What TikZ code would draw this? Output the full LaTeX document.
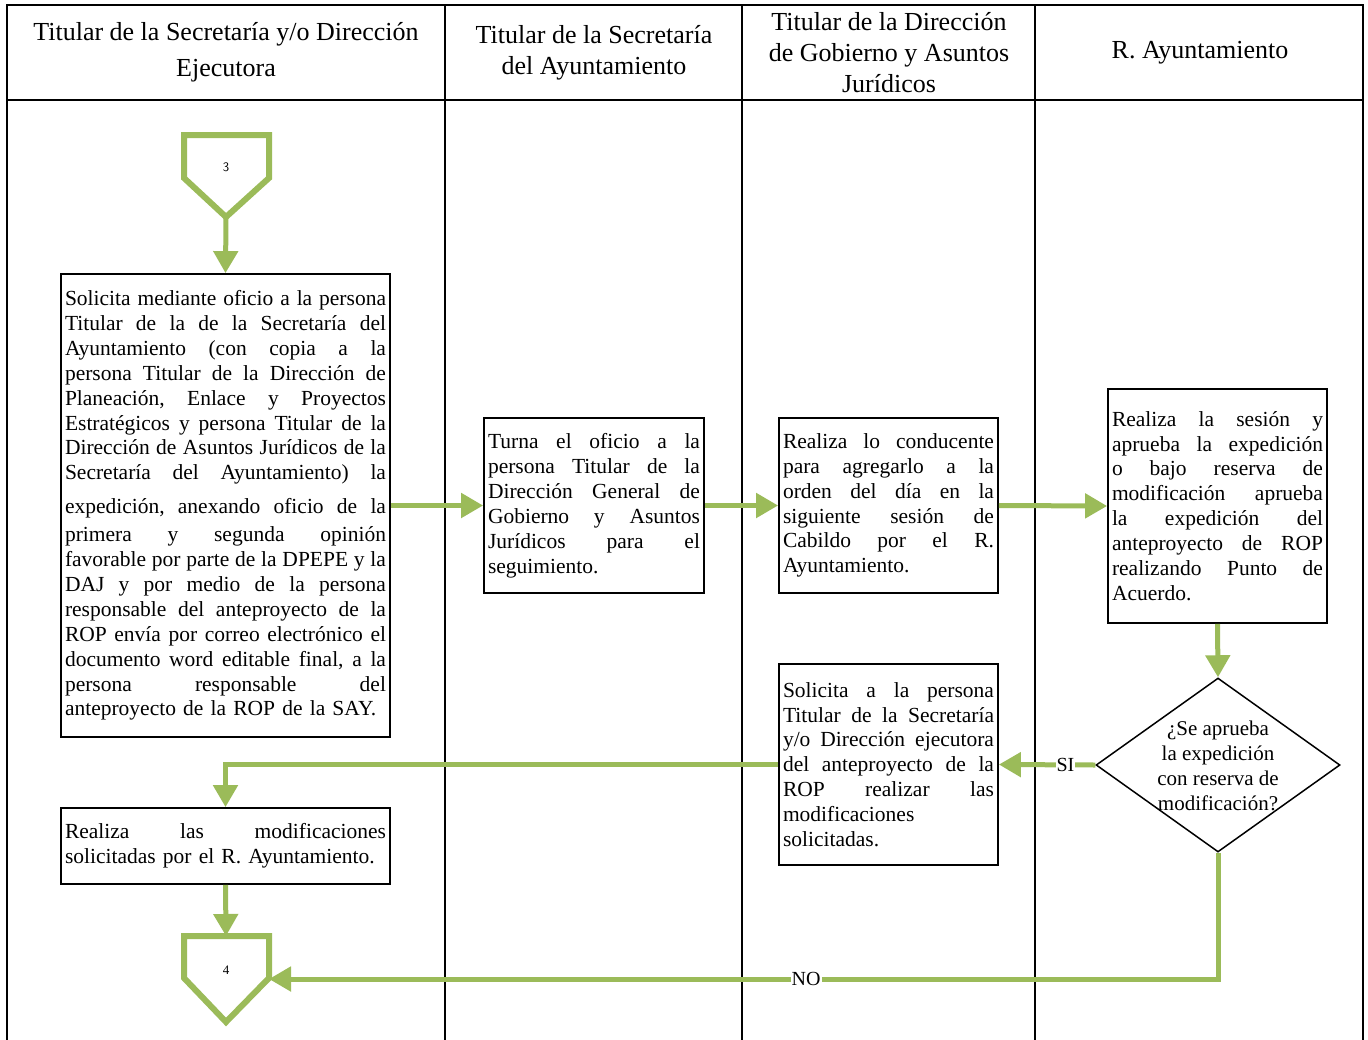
\documentclass[tikz,border=0pt]{standalone}
\usepackage{fontspec}
\setmainfont{Liberation Serif}
\usetikzlibrary{arrows.meta,shapes.geometric}
\definecolor{flowgreen}{RGB}{155,187,89}
% width of the text block of the current box
\newlength\blockw
% a fully justified line (words spread with \hfill) and a closing ragged line
\makeatletter
\def\jl@end{}
\def\jl@split#1 #2\jl@end{#1\ifx\jl@end#2\jl@end\else\hfill\jl@split#2\jl@end\fi}
\newcommand\jline[1]{\noindent\hbox to\blockw{\jl@split#1 \jl@end}\par}
\makeatother
\newcommand\lline[1]{\noindent #1\par}

\begin{document}
\begin{tikzpicture}[x=1pt,y=-1pt,
  lane/.style={draw=black, line width=1.6pt},
  headtext/.style={align=center, font=\fontsize{26}{31}\selectfont, inner sep=0pt},
  procbox/.style={draw=black, line width=1.8pt, fill=white, inner xsep=4pt, inner ysep=0pt,
    text width=#1, font=\fontsize{21.5}{24.9}\selectfont},
  decision/.style={diamond, draw=black, line width=1.5pt, fill=white, inner sep=0pt,
    minimum width=244pt, minimum height=174pt},
  offpage/.style={draw=flowgreen, line width=6pt, fill=white, line join=miter},
  flow/.style={draw=flowgreen, line width=5pt, -{Triangle[length=22pt,width=24pt]}},
  flowlabel/.style={fill=white, inner sep=1pt, font=\fontsize{20}{22}\selectfont},
]
\useasboundingbox (0,0) rectangle (1368,1039);

% swimlane table
\draw[lane] (7,1045) -- (7,5) -- (1363,5) -- (1363,1045);
\draw[lane] (7,100) -- (1363,100);
\draw[lane] (445,5) -- (445,1045);
\draw[lane] (742,5) -- (742,1045);
\draw[lane] (1035,5) -- (1035,1045);

\node[headtext] (h1) at (226,52.5) {Titular de la Secretaría y/o Dirección\\[5pt]Ejecutora};
\node[headtext] (h2) at (594,52.5) {Titular de la Secretaría\\del Ayuntamiento};
\node[headtext] (h3) at (889,53) {Titular de la Dirección\\de Gobierno y Asuntos\\Jurídicos};
\node[headtext] (h4) at (1200,52.5) {R. Ayuntamiento};

% incoming off-page connector
\draw[offpage] (184,135) -- (269,135) -- (269,178) -- (226,217) -- (184,178) -- cycle;
\coordinate (p3tip) at (226,217);
\node[font=\sffamily\fontsize{13}{15}\selectfont, inner sep=0pt] (p3) at (226,167) {3};

% process boxes
\node[procbox=321pt, minimum height=463pt] (a) at (225.5,505.5) {%
\setlength\blockw{321pt}%
\jline{Solicita mediante oficio a la persona}
\jline{Titular de la de la Secretaría del}
\jline{Ayuntamiento (con copia a la}
\jline{persona Titular de la Dirección de}
\jline{Planeación, Enlace y Proyectos}
\jline{Estratégicos y persona Titular de la}
\jline{Dirección de Asuntos Jurídicos de la}
\jline{Secretaría del Ayuntamiento) la}
\vskip 9pt
\jline{expedición, anexando oficio de la}
\vskip 3pt
\jline{primera y segunda opinión}
\jline{favorable por parte de la DPEPE y la}
\jline{DAJ y por medio de la persona}
\jline{responsable del anteproyecto de la}
\jline{ROP envía por correo electrónico el}
\jline{documento word editable final, a la}
\jline{persona responsable del}
\lline{anteproyecto de la ROP de la SAY.}};

\node[procbox=212pt, minimum height=175pt] (b) at (594,505.5) {%
\setlength\blockw{212pt}%
\jline{Turna el oficio a la}
\jline{persona Titular de la}
\jline{Dirección General de}
\jline{Gobierno y Asuntos}
\jline{Jurídicos para el}
\lline{seguimiento.}};

\node[procbox=211pt, minimum height=175pt] (c) at (888.5,505.5) {%
\setlength\blockw{211pt}%
\jline{Realiza lo conducente}
\jline{para agregarlo a la}
\jline{orden del día en la}
\jline{siguiente sesión de}
\jline{Cabildo por el R.}
\lline{Ayuntamiento.}};

\node[procbox=211pt, minimum height=234pt] (d) at (1217.5,506) {%
\setlength\blockw{211pt}%
\jline{Realiza la sesión y}
\jline{aprueba la expedición}
\jline{o bajo reserva de}
\jline{modificación aprueba}
\jline{la expedición del}
\jline{anteproyecto de ROP}
\jline{realizando Punto de}
\lline{Acuerdo.}};

\node[decision] (dia) at (1218,765) {};
\node[align=center, inner sep=0pt, font=\fontsize{21}{24.9}\selectfont] (diatext) at (1218,766)
  {¿Se aprueba\\la expedición\\con reserva de\\modificación?};

\node[procbox=211pt, minimum height=201pt] (e) at (888.5,764.5) {%
\setlength\blockw{211pt}%
\jline{Solicita a la persona}
\jline{Titular de la Secretaría}
\jline{y/o Dirección ejecutora}
\jline{del anteproyecto de la}
\jline{ROP realizar las}
\lline{modificaciones}
\lline{solicitadas.}};

\node[procbox=321pt, minimum height=76pt] (f) at (225.5,846) {%
\setlength\blockw{321pt}%
\jline{Realiza las modificaciones}
\lline{solicitadas por el R. Ayuntamiento.}};

% outgoing off-page connector
\draw[offpage] (184,936) -- (269,936) -- (269,978) -- (226,1022) -- (184,978) -- cycle;
\coordinate (p4top) at (226,936);
\coordinate (p4right) at (269,979);
\node[font=\fontsize{13}{15}\selectfont, inner sep=0pt] (p4) at (226,970) {4};

% connectors
\draw[flow] (p3tip) -- (a.north);
\draw[flow] (a.east) -- (b.west);
\draw[flow] (b.east) -- (c.west);
\draw[flow] (c.east) -- (d.west);
\draw[flow] (d.south) -- (dia.north);
\draw[flow] (dia.west) -- node[flowlabel, pos=0.31] (si) {SI} (e.west -| e.east);
\draw[flow] (e.west) -| (f.north);
\draw[flow] (f.south) -- (p4top);
\draw[flow] (dia.south) |- node[flowlabel, pos=0.717] (no) {NO} (p4right);
\end{tikzpicture}
\end{document}
